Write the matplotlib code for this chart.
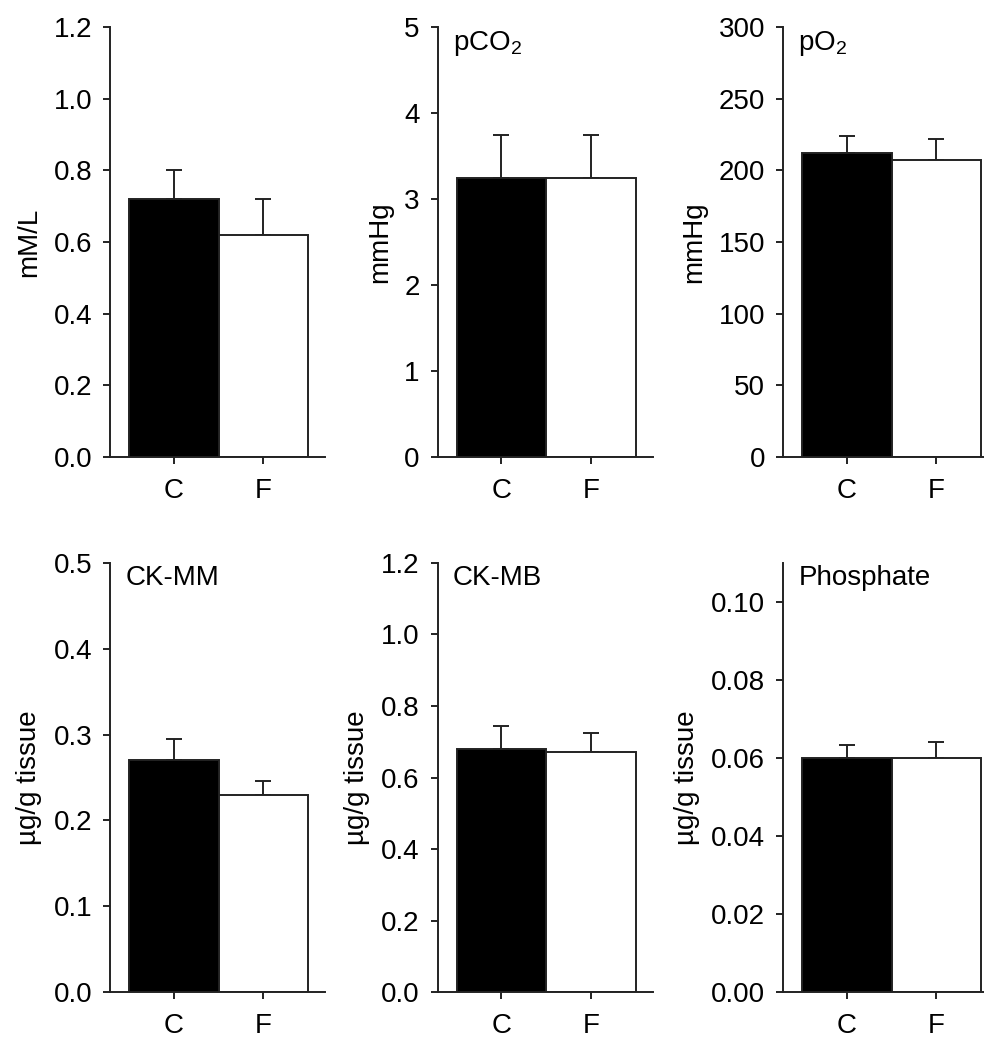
import numpy as np
import matplotlib
matplotlib.use("Agg")
import matplotlib.pyplot as plt

plt.rcParams["font.family"] = ["Liberation Sans", "DejaVu Sans"]
plt.rcParams["mathtext.fontset"] = "custom"
plt.rcParams["mathtext.rm"] = "Liberation Sans"
plt.rcParams["mathtext.it"] = "Liberation Sans"

groups = ["C", "F"]

# panel data: means and upper SE for control (C) and F
lactate_mean = [0.72, 0.62]
lactate_err = [0.08, 0.10]
pco2_mean = [3.25, 3.25]
pco2_err = [0.50, 0.50]
po2_mean = [212, 207]
po2_err = [12, 15]
ckmm_mean = [0.27, 0.23]
ckmm_err = [0.025, 0.016]
ckmb_mean = [0.68, 0.67]
ckmb_err = [0.065, 0.055]
phos_mean = [0.060, 0.060]
phos_err = [0.0033, 0.0040]

panels = [
    (lactate_mean, lactate_err, "mM/L", None, (0, 1.2), np.arange(0, 1.21, 0.2), "{:.1f}"),
    (pco2_mean, pco2_err, "mmHg", r"pCO$_\mathrm{2}$", (0, 5), np.arange(0, 6, 1), "{:.0f}"),
    (po2_mean, po2_err, "mmHg", r"pO$_\mathrm{2}$", (0, 300), np.arange(0, 301, 50), "{:.0f}"),
    (ckmm_mean, ckmm_err, "µg/g tissue", "CK-MM", (0, 0.5), np.arange(0, 0.51, 0.1), "{:.1f}"),
    (ckmb_mean, ckmb_err, "µg/g tissue", "CK-MB", (0, 1.2), np.arange(0, 1.21, 0.2), "{:.1f}"),
    (phos_mean, phos_err, "µg/g tissue", "Phosphate", (0, 0.11), np.arange(0, 0.101, 0.02), "{:.2f}"),
]

fig = plt.figure(figsize=(9.84, 10.5), dpi=100)
lefts = [0.112, 0.445, 0.796]
bottoms = [0.565, 0.055]
w, h = 0.2185, 0.409

fs = 20
for i, (mean, err, ylab, title, ylim, yt, fmt) in enumerate(panels):
    ax = fig.add_axes([lefts[i % 3], bottoms[i // 3], w, h])
    x = np.arange(len(groups))
    ax.bar(x, mean, width=1.0, color=["black", "white"], edgecolor="#222222", linewidth=1.4, zorder=2)
    ax.errorbar(x, mean, yerr=[np.zeros(len(mean)), err], fmt="none", ecolor="#222222",
                elinewidth=1.4, capsize=5.5, capthick=1.4, zorder=1)
    ax.set_xlim(-0.71, 1.69)
    ax.set_ylim(*ylim)
    ax.set_yticks(yt)
    ax.set_yticklabels([fmt.format(v) for v in yt], fontsize=fs)
    ax.set_xticks(x)
    ax.set_xticklabels(groups, fontsize=fs)
    ax.set_ylabel(ylab, fontsize=fs, labelpad=8)
    for s in ["top", "right"]:
        ax.spines[s].set_visible(False)
    for s in ["left", "bottom"]:
        ax.spines[s].set_linewidth(1.4)
        ax.spines[s].set_color("#222222")
    ax.tick_params(direction="out", length=5, width=1.4, color="#222222")
    ax.tick_params(axis="y", pad=8)
    ax.tick_params(axis="x", pad=10)
    if title:
        ax.text(0.07, 0.995, title, transform=ax.transAxes, fontsize=fs, va="top", ha="left")

fig.savefig("out.png", dpi=100)
